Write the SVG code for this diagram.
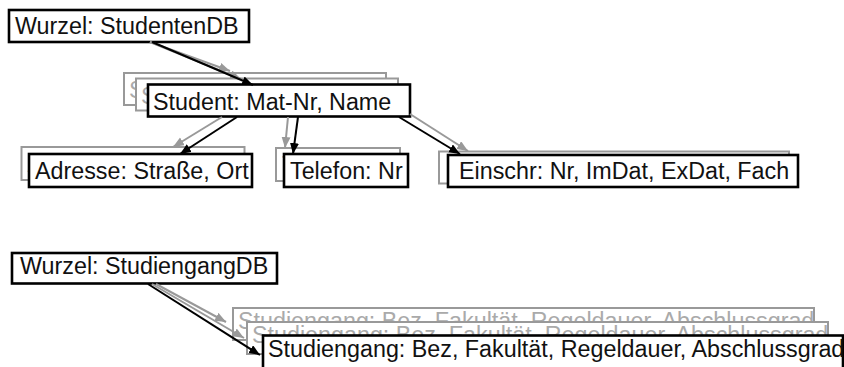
<svg xmlns="http://www.w3.org/2000/svg" width="844" height="367" viewBox="0 0 844 367">
  <style>
    text { font-family: "Liberation Sans", Arial, Helvetica, sans-serif; font-size: 23.3px; }
    .box { fill: #ffffff; stroke: #000000; stroke-width: 2.6; }
    .ghost { fill: #ffffff; stroke: #999999; stroke-width: 2; }
    .label { fill: #111111; }
    .ghost-label { fill: #aaaaaa; }
    .edge { fill: none; stroke: #000000; stroke-width: 2; marker-end: url(#head); }
    .edge-ghost { fill: none; stroke: #999999; stroke-width: 2; marker-end: url(#head-ghost); }
  </style>
  <defs>
    <marker id="head" markerUnits="userSpaceOnUse" markerWidth="12" markerHeight="10" refX="11" refY="4.5" orient="auto">
      <path d="M0,0 L11,4.5 L0,9 Z" fill="#000000"/>
    </marker>
    <marker id="head-ghost" markerUnits="userSpaceOnUse" markerWidth="12" markerHeight="10" refX="11" refY="4.5" orient="auto">
      <path d="M0,0 L11,4.5 L0,9 Z" fill="#999999"/>
    </marker>
  </defs>

  <rect width="844" height="367" fill="#ffffff"/>

  <!-- Root of the student database -->
  <g id="root-studenten">
    <rect class="box" x="9" y="10" width="240" height="32"/>
    <text class="label" x="15" y="34">Wurzel: StudentenDB</text>
  </g>

  <!-- Student segment: stacked occurrences -->
  <g id="student">
    <rect class="ghost" x="124" y="73" width="262" height="32"/>
    <text class="ghost-label" x="129" y="98">Student: Mat-Nr, Name</text>
    <rect class="ghost" x="136" y="78.5" width="262" height="32"/>
    <text class="ghost-label" x="141" y="103.5">Student: Mat-Nr, Name</text>
    <rect class="box" x="148" y="84.5" width="262" height="32"/>
    <text class="label" x="153" y="109.5">Student: Mat-Nr, Name</text>
  </g>

  <!-- Child segments of Student -->
  <g id="adresse">
    <rect class="ghost" x="21.5" y="147" width="223" height="33"/>
    <text class="ghost-label" x="27.5" y="172">Adresse: Straße, Ort</text>
    <rect class="box" x="29" y="154" width="223" height="33"/>
    <text class="label" x="35" y="179">Adresse: Straße, Ort</text>
  </g>

  <g id="telefon">
    <rect class="ghost" x="276" y="148" width="124" height="33"/>
    <text class="ghost-label" x="282" y="173">Telefon: Nr</text>
    <rect class="box" x="284" y="154" width="124" height="33"/>
    <text class="label" x="290" y="179">Telefon: Nr</text>
  </g>

  <g id="einschr">
    <rect class="ghost" x="439" y="151.5" width="350" height="32"/>
    <text class="ghost-label" x="450" y="175">Einschr: Nr, ImDat, ExDat, Fach</text>
    <rect class="box" x="448" y="155" width="350" height="32"/>
    <text class="label" x="459" y="178.5">Einschr: Nr, ImDat, ExDat, Fach</text>
  </g>

  <!-- Root of the degree programme database -->
  <g id="root-studiengang">
    <rect class="box" x="12" y="253" width="265" height="30.5"/>
    <text class="label" x="20" y="274">Wurzel: StudiengangDB</text>
  </g>

  <!-- Studiengang segment: stacked occurrences -->
  <g id="studiengang">
    <rect class="ghost" x="233" y="308" width="581" height="32"/>
    <text class="ghost-label" x="238" y="329">Studiengang: Bez, Fakultät, Regeldauer, Abschlussgrad</text>
    <rect class="ghost" x="247" y="322" width="581" height="32"/>
    <text class="ghost-label" x="252" y="343">Studiengang: Bez, Fakultät, Regeldauer, Abschlussgrad</text>
    <rect class="box" x="263" y="335.5" width="580" height="35"/>
    <text class="label" x="268" y="357">Studiengang: Bez, Fakultät, Regeldauer, Abschlussgrad</text>
  </g>

  <!-- Parent-child connectors -->
  <g id="connectors">
    <line class="edge-ghost" x1="150" y1="42" x2="241" y2="79"/>
    <line class="edge-ghost" x1="150" y1="42" x2="230" y2="71"/>
    <line class="edge" x1="152" y1="42" x2="253" y2="85"/>

    <line class="edge-ghost" x1="222" y1="117" x2="173" y2="147"/>
    <line class="edge" x1="237" y1="117" x2="180" y2="154"/>

    <line class="edge-ghost" x1="288" y1="117" x2="285" y2="148"/>
    <line class="edge" x1="298" y1="117" x2="293" y2="154"/>

    <line class="edge-ghost" x1="410" y1="114" x2="468" y2="151"/>
    <line class="edge" x1="399" y1="117" x2="460" y2="154"/>

    <line class="edge-ghost" x1="156" y1="284" x2="226" y2="322"/>
    <line class="edge-ghost" x1="152" y1="284" x2="244" y2="338"/>
    <line class="edge" x1="148" y1="284" x2="260" y2="355"/>
  </g>
</svg>
